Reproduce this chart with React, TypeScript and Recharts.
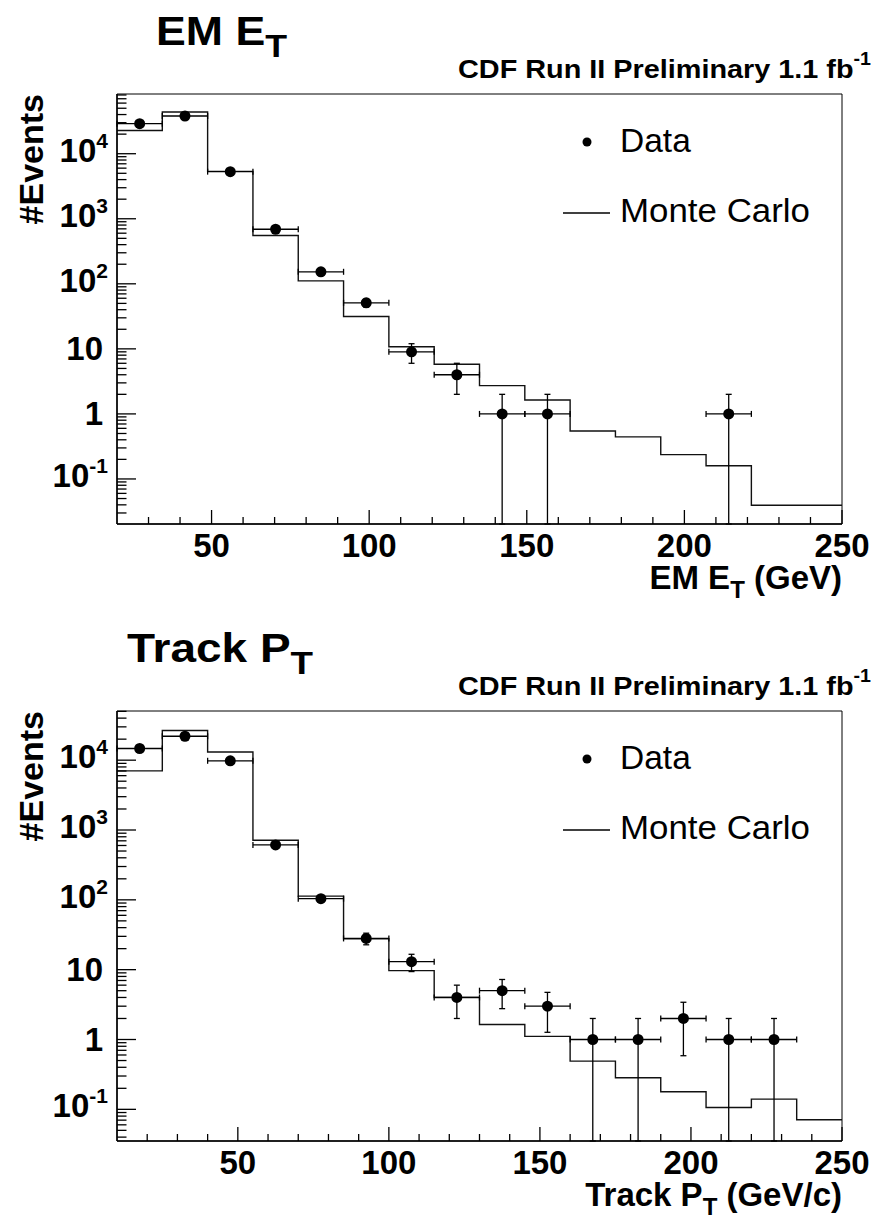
import React from 'react';
import { ComposedChart, Line, Scatter, XAxis, YAxis, ErrorBar, ReferenceArea, Legend } from 'recharts';

const FONT = '"Liberation Sans", Arial, Helvetica, sans-serif';

// EM E_T histogram (GeV)
const emEdges = [20, 34.375, 48.75, 63.125, 77.5, 91.875, 106.25, 120.625, 135, 149.375, 163.75, 178.125, 192.5, 206.875, 221.25, 235.625, 250];
const emMonteCarlo = [22800, 43800, 5350, 553, 111, 31.4, 10.8, 5.8, 2.72, 1.64, 0.547, 0.443, 0.237, 0.16, 0.0394, 0.0394];
const emData = [29000, 38000, 5300, 690, 153, 51, 9, 4, 1, 1, 0, 0, 0, 1, 0, 0];

// Track P_T histogram (GeV/c)
const ptEdges = [10, 25, 40, 55, 70, 85, 100, 115, 130, 145, 160, 175, 190, 205, 220, 235, 250];
const ptMonteCarlo = [7030, 26600, 13100, 713, 113, 27.7, 9.7, 4.0, 1.64, 1.11, 0.49, 0.284, 0.179, 0.106, 0.14, 0.071];
const ptData = [14700, 22000, 9800, 611, 104, 28, 13, 4, 5, 3, 1, 1, 2, 1, 1, 0];

// axis ticks
const xMajorTicks = [50, 100, 150, 200, 250];
const yMajorTicks = [0.1, 1, 10, 100, 1000, 10000];
const yTickBase = ['10', '1', '10', '10', '10', '10'];
const yTickExp = ['-1', '', '', '2', '3', '4'];

const W = 876;
const PLOT_TOP = 94;
const PLOT_H = 430;

function stepRows(edges: number[], mc: number[]) {
  return edges.map((x, i) => ({ x, mc: mc[Math.min(i, mc.length - 1)] }));
}

function pointRows(edges: number[], counts: number[], yMin: number) {
  const rows: any[] = [];
  counts.forEach((n, i) => {
    if (n <= 0) return;
    const err = Math.sqrt(n);
    rows.push({
      x: (edges[i] + edges[i + 1]) / 2,
      y: n,
      ex: (edges[i + 1] - edges[i]) / 2,
      ey: [Math.min(err, n - yMin), err],
    });
  });
  return rows;
}

function xTickList(x0: number) {
  const t: number[] = [];
  for (let v = x0 + 10; v <= 250; v += 10) t.push(v);
  return t;
}

function yTickList(yMin: number, yMax: number) {
  const t: number[] = [...yMajorTicks];
  for (let e = -2; e <= 4; e++) {
    for (let m = 2; m <= 9; m++) {
      const v = m * Math.pow(10, e);
      if (v > yMin && v < yMax) t.push(v);
    }
  }
  return t.sort((a, b) => a - b);
}

const XTick = (p: any) => {
  const { x, y, payload } = p;
  const major = xMajorTicks.includes(payload.value);
  return (
    <g>
      <line x1={x} x2={x} y1={y} y2={y - (major ? 14 : 7)} stroke="#000" strokeWidth={1.3} />
      {major && (
        <text x={x} y={y + 33} textAnchor="middle" fontFamily={FONT} fontWeight="bold" fontSize={33} fill="#000">
          {payload.value}
        </text>
      )}
    </g>
  );
};

const YTick = (p: any) => {
  const { x, y, payload } = p;
  const idx = yMajorTicks.indexOf(payload.value);
  const major = idx >= 0;
  const exp = major ? yTickExp[idx] : '';
  return (
    <g>
      <line x1={x} x2={x + (major ? 19 : 9.5)} y1={y} y2={y} stroke="#000" strokeWidth={1.3} />
      {major && (
        <text x={exp ? x - 9 : x - 14} y={exp ? y + 8 : y + 11} textAnchor="end" fontFamily={FONT} fontWeight="bold" fontSize={33} fill="#000">
          {yTickBase[idx]}
          {exp && <tspan dy={-14} fontSize={21}>{exp}</tspan>}
        </text>
      )}
    </g>
  );
};

const legendContent = () => (
  <svg width={W} height={240} style={{ display: 'block' }}>
    <circle cx={587} cy={142} r={4.5} fill="#000" />
    <text x={620} y={152} fontFamily={FONT} fontSize={33.5} fill="#000">Data</text>
    <line x1={563} x2={610} y1={213} y2={213} stroke="#000" strokeWidth={1.3} />
    <text x={620} y={222} fontFamily={FONT} fontSize={33.5} textLength={190} lengthAdjust="spacingAndGlyphs" fill="#000">Monte Carlo</text>
  </svg>
);

type PanelProps = {
  top: number;
  height: number;
  title: string;
  titleStart: number;
  titleWidth: number;
  xTitle: string;
  xTail: string;
  edges: number[];
  mc: number[];
  counts: number[];
  yDomain: [number, number];
};

function Panel({ top, height, title, titleStart, titleWidth, xTitle, xTail, edges, mc, counts, yDomain }: PanelProps) {
  const xDomain: [number, number] = [edges[0], edges[edges.length - 1]];
  const steps = stepRows(edges, mc);
  const points = pointRows(edges, counts, yDomain[0]);
  return (
    <div style={{ position: 'absolute', left: 0, top, width: W, height }}>
      <ComposedChart width={W} height={height} margin={{ top: PLOT_TOP, right: 34, bottom: 0, left: 0 }}>
        <XAxis
          type="number"
          dataKey="x"
          domain={xDomain}
          allowDataOverflow
          ticks={xTickList(xDomain[0])}
          interval={0}
          tickSize={0}
          tickMargin={0}
          tickLine={false}
          axisLine={{ stroke: '#000', strokeWidth: 1.5 }}
          tick={XTick}
          height={height - PLOT_TOP - PLOT_H}
        />
        <YAxis
          type="number"
          scale="log"
          domain={yDomain}
          allowDataOverflow
          ticks={yTickList(yDomain[0], yDomain[1])}
          interval={0}
          tickSize={0}
          tickMargin={0}
          tickLine={false}
          axisLine={{ stroke: '#000', strokeWidth: 1.5 }}
          tick={YTick}
          width={117}
        />
        <ReferenceArea x1={xDomain[0]} x2={xDomain[1]} y1={yDomain[0]} y2={yDomain[1]} fill="none" stroke="#000" strokeWidth={1} />
        <Line data={steps} dataKey="mc" type="stepAfter" stroke="#111" strokeWidth={1.4} dot={false} isAnimationActive={false} />
        <Scatter
          data={points}
          dataKey="y"
          isAnimationActive={false}
          shape={(s: any) => <circle cx={s.cx} cy={s.cy} r={5.5} fill="#000" />}
        >
          <ErrorBar dataKey="ey" direction="y" width={3} stroke="#000" strokeWidth={1.3} />
          <ErrorBar dataKey="ex" direction="x" width={3} stroke="#000" strokeWidth={1.3} />
        </Scatter>
        <Legend
          layout="vertical"
          align="center"
          verticalAlign="middle"
          content={legendContent}
          wrapperStyle={{ left: 0, top: 0, width: W, height: 240 }}
        />
      </ComposedChart>
      <svg width={W} height={height} style={{ position: 'absolute', left: 0, top: 0, pointerEvents: 'none' }}>
        <text x={titleStart} y={45} textLength={titleWidth} lengthAdjust="spacingAndGlyphs" fontFamily={FONT} fontWeight="bold" fontSize={40} fill="#000">
          {title}
          <tspan dy={12} fontSize={32}>T</tspan>
        </text>
        <text x={458} y={78} textLength={413} lengthAdjust="spacingAndGlyphs" fontFamily={FONT} fontWeight="bold" fontSize={26.5} fill="#000">
          CDF Run II Preliminary 1.1 fb
          <tspan dy={-13} fontSize={18}>-1</tspan>
        </text>
        <text transform="translate(43,94) rotate(-90)" textAnchor="end" fontFamily={FONT} fontWeight="bold" fontSize={34} fill="#000">
          #Events
        </text>
        <text x={842} y={589} textAnchor="end" fontFamily={FONT} fontWeight="bold" fontSize={33} fill="#000">
          {xTitle}
          <tspan dy={9} fontSize={24}>T</tspan>
          <tspan dy={-9}>{xTail}</tspan>
        </text>
      </svg>
    </div>
  );
}

export default function App() {
  return (
    <div style={{ position: 'absolute', left: 0, top: 0, width: W, height: 1219, background: '#fff' }}>
      <Panel top={0} height={617} title="EM E" titleStart={156} titleWidth={131} xTitle="EM E" xTail=" (GeV)" edges={emEdges} mc={emMonteCarlo} counts={emData} yDomain={[0.0203, 82800]} />
      <Panel top={617} height={602} title="Track P" titleStart={127} titleWidth={186} xTitle="Track P" xTail=" (GeV/c)" edges={ptEdges} mc={ptMonteCarlo} counts={ptData} yDomain={[0.0352, 50600]} />
    </div>
  );
}
